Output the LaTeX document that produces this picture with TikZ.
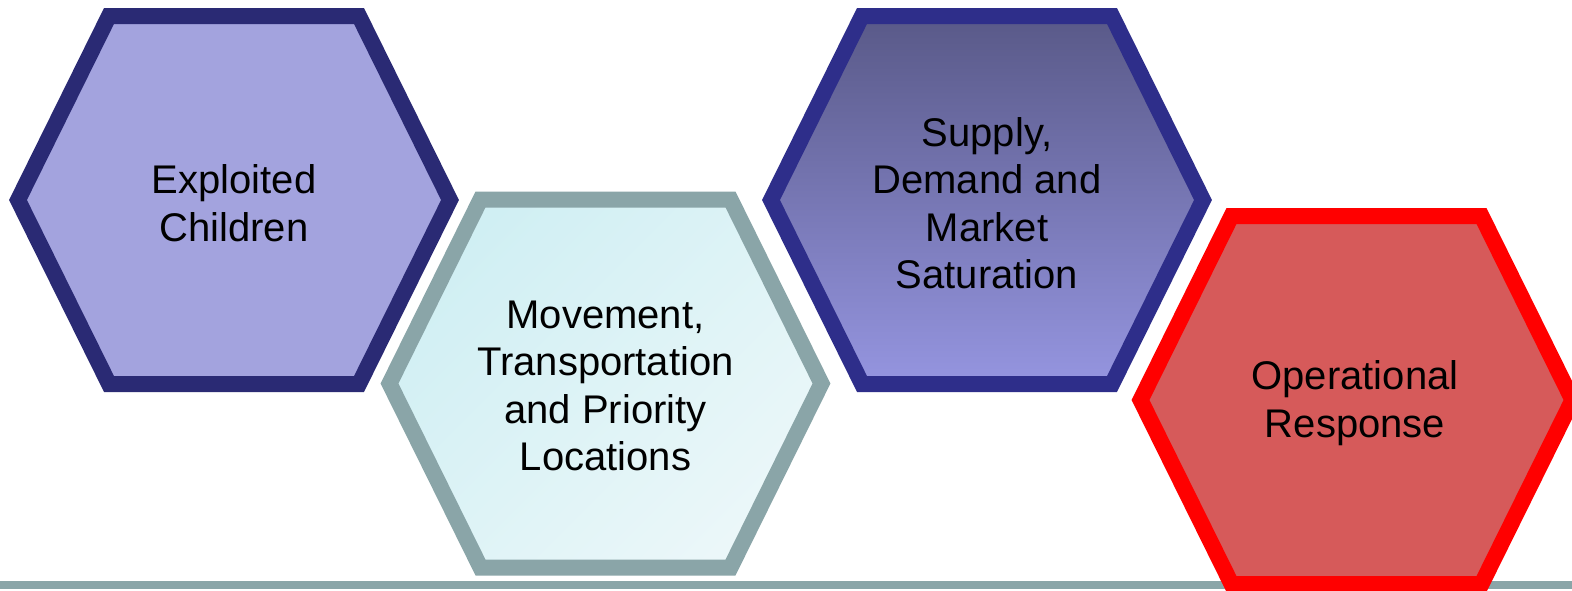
\documentclass[tikz,border=0pt]{standalone}
\usepackage{fontspec}
\setmainfont{Liberation Sans}
\definecolor{navyA}{HTML}{2A2A74}
\definecolor{lavA}{HTML}{A3A3DE}
\definecolor{greyT}{HTML}{8AA5A8}
\definecolor{cyanA}{HTML}{D0EFF3}
\definecolor{cyanB}{HTML}{EBF7F9}
\definecolor{navyB}{HTML}{2E2E8A}
\definecolor{purTop}{HTML}{595988}
\definecolor{purBot}{HTML}{9595E0}
\definecolor{redF}{HTML}{D65A5A}
\definecolor{redB}{HTML}{FF0000}
\newcommand{\hexshape}{(-216,0) -- (-125,-184) -- (125,-184) -- (216,0) -- (125,184) -- (-125,184) -- cycle}
\tikzset{
  hexline/.style={line width=16pt, line join=miter},
  hexone/.style={hexline, draw=navyA, fill=lavA},
  hextwo/.style={hexline, draw=greyT, top color=cyanA, bottom color=cyanB, shading angle=45},
  hexthree/.style={hexline, draw=navyB, top color=purTop, bottom color=purBot},
  hexfour/.style={hexline, draw=redB, fill=redF},
  hexlabel/.style={align=center, text=black, font=\fontsize{40}{47.5}\selectfont, inner sep=0pt},
  barstyle/.style={fill=greyT, draw=none}
}
\begin{document}
\begin{tikzpicture}[x=1pt, y=-1pt]
\useasboundingbox (0,0) rectangle (1572,590);
\clip (0,0) rectangle (1572,590);
\fill[white] (0,0) rectangle (1572,590);
\path[barstyle] (0,581) rectangle (1572,589);
\path[hexone, shift={(234,200)}] \hexshape;
\path[hextwo, shift={(605.5,383.5)}] \hexshape;
\path[hexthree, shift={(987,200)}] \hexshape;
\path[hexfour, shift={(1356.5,400)}] \hexshape;
\node[hexlabel] (n1) at (234,203) {Exploited\\Children};
\node[hexlabel] (n2) at (605.5,386) {Movement,\\Transportation\\and Priority\\Locations};
\node[hexlabel] (n3) at (987,203) {Supply,\\Demand and\\Market\\Saturation};
\node[hexlabel] (n4) at (1355,403) {Operational\\Response};
\end{tikzpicture}
\end{document}
